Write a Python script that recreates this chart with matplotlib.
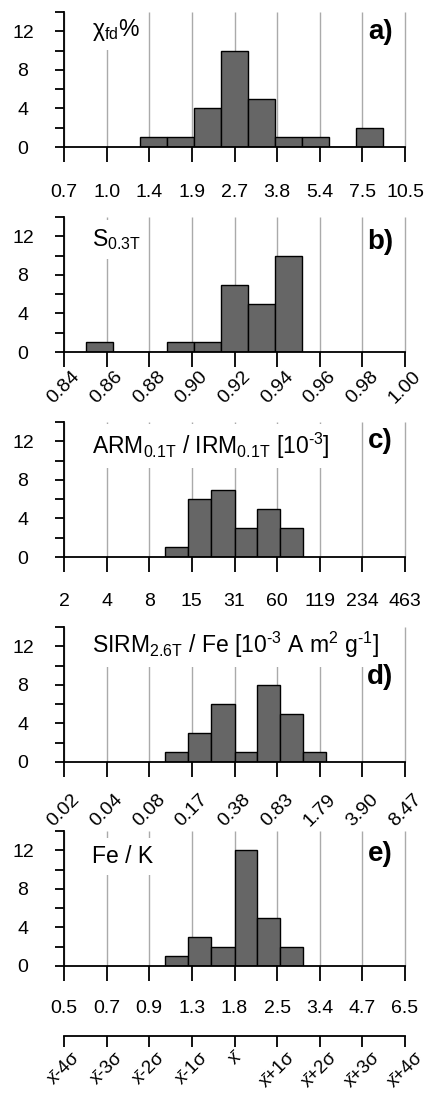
"""
Stacked histograms of magnetic / geochemical ratios on a common sigma scale.
"""

import numpy as np
import matplotlib
matplotlib.use('Agg')
import matplotlib.pyplot as plt

plt.rcParams['font.family'] = ['Liberation Sans', 'DejaVu Sans']
plt.rcParams['mathtext.fontset'] = 'custom'
plt.rcParams['mathtext.rm'] = 'Liberation Sans'
plt.rcParams['mathtext.it'] = 'Liberation Sans'
plt.rcParams['mathtext.default'] = 'regular'

# common x scale: mean +/- n sigma
sigma_pos = [-4, -3, -2, -1, 0, 1, 2, 3, 4]
sigma_labels = ['x\u0304-4\u03c3', 'x\u0304-3\u03c3', 'x\u0304-2\u03c3', 'x\u0304-1\u03c3', 'x\u0304',
                'x\u0304+1\u03c3', 'x\u0304+2\u03c3', 'x\u0304+3\u03c3', 'x\u0304+4\u03c3']

# a) chi_fd %
a_ticks = ['0.7', '1.0', '1.4', '1.9', '2.7', '3.8', '5.4', '7.5', '10.5']
a_edges = [-2.22, -1.59, -0.95, -0.32, 0.31, 0.95, 1.58, 2.21, 2.84, 3.48]
a_counts = [1, 1, 4, 10, 5, 1, 1, 0, 2]

# b) S-ratio
b_ticks = ['0.84', '0.86', '0.88', '0.90', '0.92', '0.94', '0.96', '0.98', '1.00']
b_edges = [-3.49, -2.86, -2.22, -1.59, -0.95, -0.32, 0.31, 0.95, 1.58]
b_counts = [1, 0, 0, 1, 1, 7, 5, 10]

# c) ARM / IRM
c_ticks = ['2', '4', '8', '15', '31', '60', '119', '234', '463']
c_edges = [-1.62, -1.08, -0.54, 0.00, 0.53, 1.07, 1.60]
c_counts = [1, 6, 7, 3, 5, 3]

# d) SIRM / Fe
d_ticks = ['0.02', '0.04', '0.08', '0.17', '0.38', '0.83', '1.79', '3.90', '8.47']
d_edges = [-1.62, -1.08, -0.54, 0.00, 0.53, 1.07, 1.60, 2.14]
d_counts = [1, 3, 6, 1, 8, 5, 1]

# e) Fe / K
e_ticks = ['0.5', '0.7', '0.9', '1.3', '1.8', '2.5', '3.4', '4.7', '6.5']
e_edges = [-1.62, -1.08, -0.54, 0.00, 0.53, 1.07, 1.60]
e_counts = [1, 3, 2, 12, 5, 2]

panels = [
    # edges, counts, ticks, title, letter, rotate, pad, title_y, letter_y
    (a_edges, a_counts, a_ticks, '$\u03c7_{fd}$%', 'a)', False, 16, 11.5, 11.2),
    (b_edges, b_counts, b_ticks, r'$S_{0.3T}$', 'b)', True, 0.5, 11.0, 10.7),
    (c_edges, c_counts, c_ticks, r'$ARM_{0.1T}$ / $IRM_{0.1T}$ [10$^{\text{-3}}$]', 'c)', False, 15, 10.7, 11.3),
    (d_edges, d_counts, d_ticks, r'$SIRM_{2.6T}$ / Fe [10$^{\text{-3}}$ A m$^{2}$ g$^{\text{-1}}$]', 'd)', True, 10, 11.3, 8.1),
    (e_edges, e_counts, e_ticks, 'Fe / K', 'e)', False, 14, 10.7, 10.9),
]

W, H = 425, 1093
fig = plt.figure(figsize=(W / 100, H / 100), dpi=100)

left = 64 / W
width = 341 / W
zero_px = [147, 352, 557, 762, 966]
ax_h = 135

for (edges, counts, ticks, title, letter, rotate, pad, ty, ly), zp in zip(panels, zero_px):
    ax = fig.add_axes([left, 1 - zp / H, width, ax_h / H])
    ax.set_xlim(-4, 4)
    ax.set_ylim(0, 14)
    for s in ['top', 'right']:
        ax.spines[s].set_visible(False)
    for s in ['left', 'bottom']:
        ax.spines[s].set_linewidth(1.3)

    ax.vlines(sigma_pos, 0, 14, color='#aaaaaa', lw=1.0, zorder=0, clip_on=False)
    ax.bar(edges[:-1], counts, width=np.diff(edges), align='edge',
           color='#666666', edgecolor='black', lw=1.0, zorder=2)

    ax.set_yticks([0, 2, 4, 6, 8, 10, 12, 14])
    ax.set_yticklabels(['0', '', '4', '', '8', '', '12', ''], fontsize=14)
    ax.tick_params(axis='y', direction='out', length=6.5, width=1.3, pad=23)
    for lab in ax.get_yticklabels():
        lab.set_horizontalalignment('center')

    ax.set_xticks(sigma_pos)
    if rotate:
        ax.set_xticklabels(ticks, fontsize=14, rotation=45, ha='center', va='top')
    else:
        ax.set_xticklabels(ticks, fontsize=14)
    ax.tick_params(axis='x', direction='out', length=10.8, width=1.3, pad=pad)

    ax.text(-3.34, ty, title, fontsize=16.5, ha='left', va='baseline', zorder=3,
            bbox=dict(facecolor='white', edgecolor='none', pad=5))
    ax.text(3.72, ly, letter, fontsize=20, fontweight='bold', ha='right', va='baseline', zorder=3)

# sigma axis below the last panel
axs = fig.add_axes([left, 1 - 1036 / H, width, 0.0005])
axs.set_xlim(-4, 4)
axs.patch.set_visible(False)
for s in ['top', 'right', 'left']:
    axs.spines[s].set_visible(False)
axs.spines['bottom'].set_linewidth(1.3)
axs.set_yticks([])
axs.set_xticks(sigma_pos)
axs.set_xticklabels(sigma_labels, fontsize=13.5, rotation=45, ha='center', va='top')
axs.tick_params(axis='x', direction='out', length=8, width=1.3, pad=1.5)

fig.savefig('out.png', dpi=100)
